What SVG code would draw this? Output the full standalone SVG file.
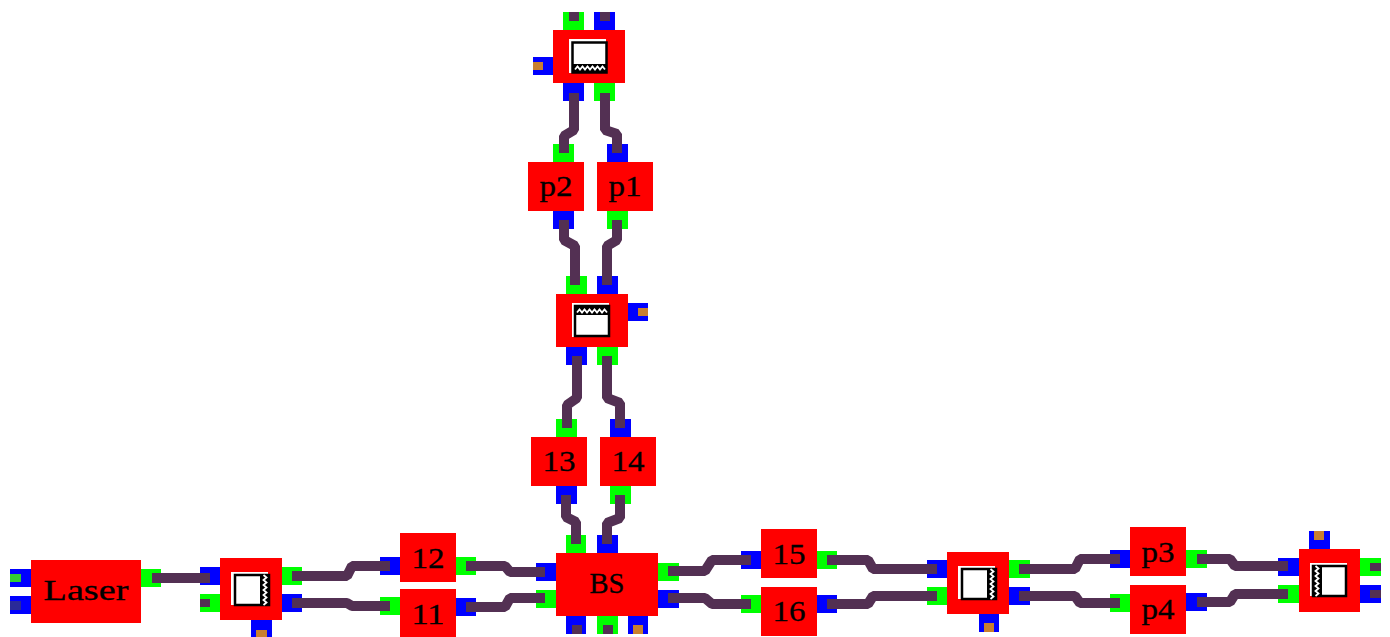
<svg xmlns="http://www.w3.org/2000/svg" width="1390" height="637" viewBox="0 0 1390 637">
<style>
.r{fill:#ff0000}.g{fill:#00ff00}.b{fill:#0000ff}.s{fill:#533053}.o{fill:#c98030}
.w{fill:none;stroke:#533053;stroke-width:10;stroke-linejoin:bevel}
.t{font-family:"Liberation Serif","Times New Roman",serif;font-size:29px;fill:#000;text-anchor:middle;stroke:#000;stroke-width:.3}
.h{fill:#ffffff}.f{fill:#ffffff;stroke:#000;stroke-width:2.5}.k{fill:#000}
.z{fill:none;stroke:#ffffff;stroke-width:1.8}
</style>
<defs>
<path id="zz" d="M0 1.500l2.500-3 2.500 3 2.500-3 2.500 3 2.500-3 2.500 3 2.500-3 2.500 3 2.500-3 2.500 3 2.500-3 2.500 3"/>
</defs>
<g id="laser">
<rect class="r" x="31" y="560" width="110" height="63"/>
<rect class="b" x="10" y="569" width="21" height="18"/><rect x="10" y="574" width="11" height="8" fill="#33cc33"/>
<rect class="b" x="10" y="596" width="21" height="18"/><rect x="10" y="601" width="11" height="9" fill="#2a2a99"/>
<rect class="g" x="141" y="569" width="20" height="18"/>
<text class="t" x="86" y="600" textLength="85" lengthAdjust="spacingAndGlyphs">Laser</text>
</g>
<g id="splitter1">
<rect class="r" x="220" y="558" width="62" height="62"/>
<rect class="b" x="200" y="567" width="20" height="18"/>
<rect class="g" x="200" y="594" width="20" height="18"/><rect class="s" x="200" y="599" width="10" height="8"/>
<rect class="g" x="282" y="567" width="20" height="18"/>
<rect class="b" x="282" y="594" width="20" height="18"/>
<rect class="b" x="251" y="620" width="21" height="17"/><rect class="o" x="256" y="630" width="11" height="7"/>
<rect class="h" x="231" y="572" width="37" height="33"/>
<rect class="f" x="235" y="575" width="34" height="30"/>
<rect class="k" x="260" y="575" width="9" height="30"/>
<use class="z" href="#zz" transform="translate(265,575) rotate(90)"/>
</g>
<g id="n12"><rect class="r" x="400" y="533" width="56" height="49"/>
<rect class="b" x="380" y="557" width="20" height="18"/><rect class="g" x="456" y="557" width="20" height="18"/>
<text class="t" x="428" y="568" textLength="33" lengthAdjust="spacingAndGlyphs">12</text></g>
<g id="n11"><rect class="r" x="400" y="589" width="56" height="48"/>
<rect class="g" x="380" y="597" width="20" height="18"/><rect class="b" x="456" y="598" width="20" height="18"/>
<text class="t" x="428" y="624" textLength="33" lengthAdjust="spacingAndGlyphs">11</text></g>
<g id="bs">
<rect class="r" x="556" y="553" width="102" height="63"/>
<rect class="b" x="536" y="563" width="20" height="18"/><rect class="g" x="536" y="590" width="20" height="18"/>
<rect class="g" x="658" y="563" width="21" height="18"/><rect class="b" x="658" y="590" width="21" height="18"/>
<rect class="g" x="566" y="535" width="20" height="18"/><rect class="b" x="597" y="535" width="21" height="18"/>
<rect class="b" x="566" y="616" width="20" height="18"/><rect class="s" x="572" y="625" width="10" height="9"/>
<rect class="g" x="597" y="616" width="21" height="18"/><rect class="s" x="603" y="625" width="10" height="9"/>
<rect class="b" x="628" y="616" width="20" height="18"/><rect class="o" x="633" y="625" width="10" height="9"/>
<text class="t" x="607" y="593" textLength="35" lengthAdjust="spacingAndGlyphs">BS</text>
</g>
<g id="n15"><rect class="r" x="761" y="529" width="56" height="49"/>
<rect class="b" x="741" y="551" width="20" height="18"/><rect class="g" x="817" y="551" width="20" height="18"/>
<text class="t" x="789" y="564" textLength="33" lengthAdjust="spacingAndGlyphs">15</text></g>
<g id="n16"><rect class="r" x="761" y="587" width="56" height="49"/>
<rect class="g" x="741" y="595" width="20" height="18"/><rect class="b" x="817" y="595" width="20" height="18"/>
<text class="t" x="789" y="621" textLength="33" lengthAdjust="spacingAndGlyphs">16</text></g>
<g id="splitter2">
<rect class="r" x="947" y="552" width="62" height="62"/>
<rect class="b" x="927" y="560" width="20" height="18"/><rect class="g" x="927" y="587" width="20" height="18"/>
<rect class="g" x="1009" y="560" width="21" height="18"/><rect class="b" x="1009" y="587" width="21" height="18"/>
<rect class="b" x="979" y="614" width="20" height="18"/><rect class="o" x="984" y="623" width="10" height="9"/>
<rect class="h" x="958" y="566" width="37" height="33"/>
<rect class="f" x="962" y="569" width="34" height="30"/>
<rect class="k" x="987" y="569" width="9" height="30"/>
<use class="z" href="#zz" transform="translate(992,569) rotate(90)"/>
</g>
<g id="p3"><rect class="r" x="1130" y="527" width="56" height="49"/>
<rect class="b" x="1110" y="550" width="20" height="18"/><rect class="g" x="1186" y="550" width="21" height="18"/>
<text class="t" x="1158" y="562" textLength="33" lengthAdjust="spacingAndGlyphs">p3</text></g>
<g id="p4"><rect class="r" x="1130" y="585" width="56" height="49"/>
<rect class="g" x="1110" y="594" width="20" height="18"/><rect class="b" x="1186" y="593" width="21" height="18"/>
<text class="t" x="1158" y="619" textLength="33" lengthAdjust="spacingAndGlyphs">p4</text></g>
<g id="splitter3">
<rect class="r" x="1299" y="549" width="61" height="63"/>
<rect class="b" x="1278" y="558" width="21" height="18"/><rect class="g" x="1278" y="585" width="21" height="18"/>
<rect class="g" x="1360" y="558" width="21" height="18"/><rect class="s" x="1370" y="563" width="11" height="8"/>
<rect class="b" x="1360" y="585" width="21" height="18"/><rect class="s" x="1370" y="590" width="11" height="8"/>
<rect class="b" x="1309" y="531" width="21" height="18"/><rect class="o" x="1314" y="531" width="10" height="9"/>
<rect class="h" x="1310" y="563" width="37" height="33"/>
<rect class="f" x="1313" y="566" width="33" height="30"/>
<rect class="k" x="1313" y="566" width="9" height="30"/>
<use class="z" href="#zz" transform="translate(1317,566) rotate(90)"/>
</g>
<g id="splitter-mid">
<rect class="r" x="556" y="294" width="72" height="53"/>
<rect class="g" x="566" y="276" width="21" height="18"/><rect class="b" x="597" y="276" width="21" height="18"/>
<rect class="b" x="566" y="347" width="21" height="18"/><rect class="g" x="597" y="347" width="21" height="18"/>
<rect class="b" x="628" y="303" width="20" height="18"/><rect class="o" x="638" y="308" width="10" height="8"/>
<rect class="h" x="572" y="303" width="37" height="34"/>
<rect class="f" x="575" y="306" width="34" height="30"/>
<rect class="k" x="575" y="306" width="34" height="9"/>
<use class="z" href="#zz" transform="translate(577,311)"/>
</g>
<g id="n13"><rect class="r" x="531" y="437" width="56" height="49"/>
<rect class="g" x="556" y="419" width="21" height="18"/><rect class="b" x="556" y="486" width="21" height="18"/>
<text class="t" x="559" y="471" textLength="33" lengthAdjust="spacingAndGlyphs">13</text></g>
<g id="n14"><rect class="r" x="600" y="437" width="56" height="49"/>
<rect class="b" x="610" y="419" width="21" height="18"/><rect class="g" x="610" y="486" width="21" height="18"/>
<text class="t" x="628" y="471" textLength="33" lengthAdjust="spacingAndGlyphs">14</text></g>
<g id="p2"><rect class="r" x="528" y="162" width="56" height="49"/>
<rect class="g" x="553" y="144" width="21" height="18"/><rect class="b" x="553" y="211" width="21" height="18"/>
<text class="t" x="556" y="196" textLength="33" lengthAdjust="spacingAndGlyphs">p2</text></g>
<g id="p1"><rect class="r" x="597" y="162" width="56" height="49"/>
<rect class="b" x="607" y="144" width="21" height="18"/><rect class="g" x="607" y="211" width="21" height="18"/>
<text class="t" x="625" y="196" textLength="33" lengthAdjust="spacingAndGlyphs">p1</text></g>
<g id="splitter-top">
<rect class="r" x="553" y="30" width="72" height="53"/>
<rect class="g" x="563" y="12" width="21" height="18"/><rect class="s" x="569" y="12" width="10" height="9"/>
<rect class="b" x="594" y="12" width="21" height="18"/><rect class="s" x="600" y="12" width="10" height="9"/>
<rect class="b" x="533" y="57" width="20" height="18"/><rect class="o" x="533" y="62" width="10" height="8"/>
<rect class="b" x="563" y="83" width="21" height="18"/><rect class="g" x="594" y="83" width="21" height="18"/>
<rect class="h" x="569" y="39" width="37" height="34"/>
<rect class="f" x="572.500" y="42.500" width="34" height="30"/>
<rect class="k" x="572.500" y="64" width="34" height="9"/>
<use class="z" href="#zz" transform="translate(575,68)"/>
</g>
<g id="connectors">
<polyline class="w" points="152,578 210,578"/>
<polyline class="w" points="292,576 347,576 352,566 390,566"/>
<polyline class="w" points="292,603 347,603 352,606 390,606"/>
<polyline class="w" points="466,566 505,566 510,572 545,572"/>
<polyline class="w" points="466,607 505,607 510,598 545,598"/>
<polyline class="w" points="668,571 705,571 712,560 751,560"/>
<polyline class="w" points="668,598 705,598 712,604 751,604"/>
<polyline class="w" points="827,560 868,560 873,569 937,569"/>
<polyline class="w" points="827,604 868,604 873,596 937,596"/>
<polyline class="w" points="1019,569 1075,569 1080,559 1120,559"/>
<polyline class="w" points="1019,596 1075,596 1080,603 1120,603"/>
<polyline class="w" points="1197,559 1230,559 1235,566 1288,566"/>
<polyline class="w" points="1197,602 1230,602 1235,594 1288,594"/>
<polyline class="w" points="574,93 574,130 564,136 564,153"/>
<polyline class="w" points="605,93 605,130 617,134 617,153"/>
<polyline class="w" points="564,220 564,240 575,246 575,285"/>
<polyline class="w" points="617,220 617,240 607,246 607,285"/>
<polyline class="w" points="577,356 577,398 567,405 567,428"/>
<polyline class="w" points="607,356 607,398 620,403 620,428"/>
<polyline class="w" points="566,495 566,517 576,522 576,544"/>
<polyline class="w" points="620,495 620,518 607,523 607,544"/>
</g>
</svg>
